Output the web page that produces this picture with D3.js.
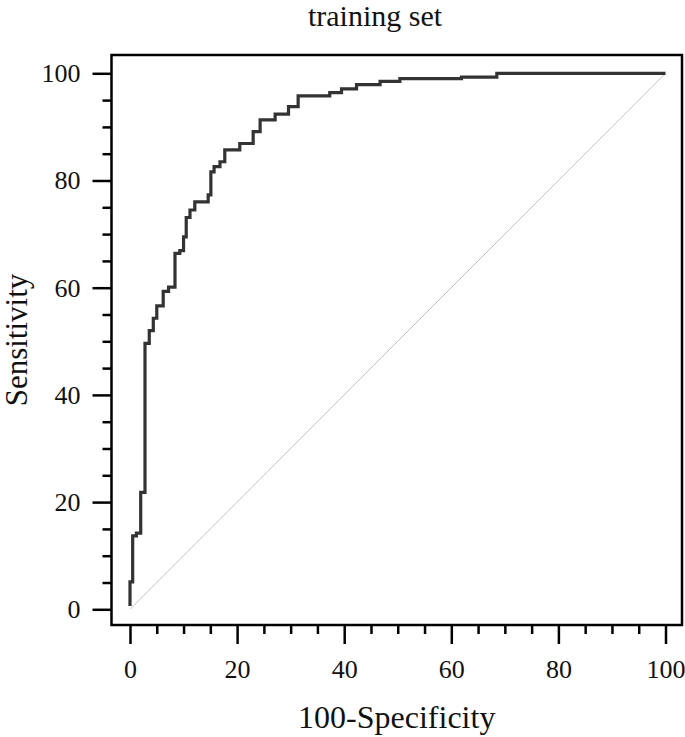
<!DOCTYPE html>
<html>
<head>
<meta charset="utf-8">
<script src="https://cdn.jsdelivr.net/npm/d3@7"></script>
<style>
  body { margin: 0; background: #fff; }
  text { font-family: "Liberation Serif", "Times New Roman", serif; }
</style>
</head>
<body>
<script>
// ROC points: top of each vertical step (100-specificity, sensitivity)
var fpr = [0, 0, 0.5, 1.2, 2.0, 2.8, 3.6, 4.35, 5.0, 6.2, 7.2, 8.4, 9.3, 10.0, 10.5, 11.2, 12.1,
           14.6, 15.1, 15.7, 16.8, 17.7, 20.5, 23.0, 24.3, 27.1, 29.6, 31.4, 37.3, 39.5, 42.3,
           46.7, 50.4, 61.9, 68.5, 100]
var tpr = [0.6, 5.1, 13.7, 14.2, 21.8, 49.6, 52.0, 54.3, 56.6, 59.3, 60.1, 66.4, 66.9, 69.5, 73.1, 74.5, 76.0,
           77.3, 81.6, 82.6, 83.5, 85.7, 86.9, 89.1, 91.3, 92.4, 93.8, 95.8, 96.4, 97.1, 97.9,
           98.5, 99.0, 99.3, 100, 100]
var majorTicks = [0, 20, 40, 60, 80, 100]
var minorTicks = [5, 10, 15, 25, 30, 35, 45, 50, 55, 65, 70, 75, 85, 90, 95]

var width = 685, height = 737
var frame = {left: 111.5, right: 682, top: 55, bottom: 625}

var svg = d3.select("body").append("svg")
    .attr("width", width)
    .attr("height", height)

var x = d3.scaleLinear().domain([0, 100]).range([130, 665.5])
var y = d3.scaleLinear().domain([0, 100]).range([609.3, 73.3])

// reference diagonal
svg.append("line")
    .attr("x1", x(0)).attr("y1", y(0))
    .attr("x2", x(100)).attr("y2", y(100))
    .attr("stroke", "#c4c4c4")
    .attr("stroke-width", 1)

// roc curve
var pts = fpr.map(function(d, i) { return [d, tpr[i]] })
var line = d3.line()
    .x(function(d) { return x(d[0]) })
    .y(function(d) { return y(d[1]) })
    .curve(d3.curveStepAfter)

svg.append("path")
    .datum(pts)
    .attr("d", line)
    .attr("fill", "none")
    .attr("stroke", "#333")
    .attr("stroke-width", 3.2)

// frame
svg.append("rect")
    .attr("x", frame.left)
    .attr("y", frame.top)
    .attr("width", frame.right - frame.left)
    .attr("height", frame.bottom - frame.top)
    .attr("fill", "none")
    .attr("stroke", "#000")
    .attr("stroke-width", 2.5)

// axes: major ticks with labels, minor ticks without
function styleAxis(g) {
  g.select(".domain").remove()
  g.selectAll(".tick line").attr("stroke", "#000").attr("stroke-width", 2.5)
  g.selectAll(".tick text")
    .attr("font-family", "'Liberation Serif', serif")
    .attr("font-size", 26)
    .attr("fill", "#111")
}

svg.append("g")
    .attr("transform", "translate(" + frame.left + ",0)")
    .call(d3.axisLeft(y).tickValues(majorTicks).tickSize(19).tickPadding(12))
    .call(styleAxis)
svg.append("g")
    .attr("transform", "translate(" + frame.left + ",0)")
    .call(d3.axisLeft(y).tickValues(minorTicks).tickSize(9).tickFormat(""))
    .call(styleAxis)

svg.append("g")
    .attr("transform", "translate(0," + frame.bottom + ")")
    .call(d3.axisBottom(x).tickValues(majorTicks).tickSize(19).tickPadding(16))
    .call(styleAxis)
svg.append("g")
    .attr("transform", "translate(0," + frame.bottom + ")")
    .call(d3.axisBottom(x).tickValues(minorTicks).tickSize(9).tickFormat(""))
    .call(styleAxis)

// titles
svg.append("text")
    .attr("x", 375)
    .attr("y", 26)
    .attr("text-anchor", "middle")
    .attr("font-size", 30)
    .attr("fill", "#111")
    .text("training set")

svg.append("text")
    .attr("x", (frame.left + frame.right) / 2)
    .attr("y", 728)
    .attr("text-anchor", "middle")
    .attr("font-size", 32)
    .attr("fill", "#111")
    .text("100-Specificity")

svg.append("text")
    .attr("transform", "translate(27," + ((frame.top + frame.bottom) / 2) + ") rotate(-90)")
    .attr("text-anchor", "middle")
    .attr("font-size", 31)
    .attr("fill", "#111")
    .text("Sensitivity")
</script>
</body>
</html>
